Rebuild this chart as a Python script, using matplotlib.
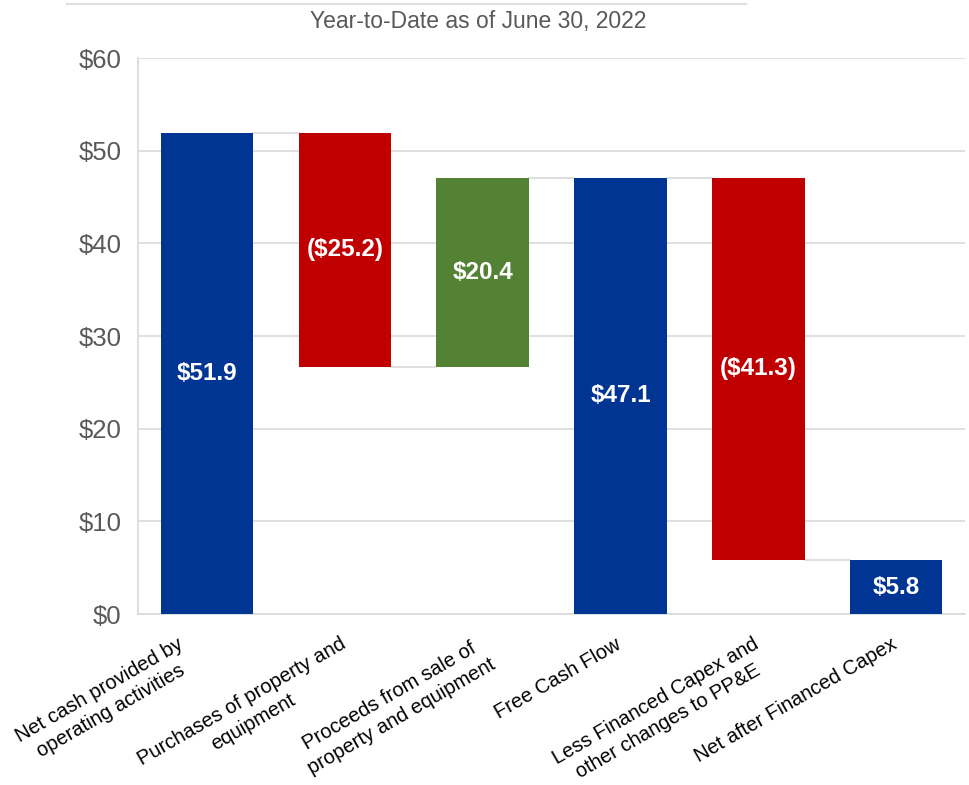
import numpy as np
import matplotlib.pyplot as plt
from matplotlib.lines import Line2D

plt.rcParams['font.family'] = ['Liberation Sans', 'DejaVu Sans']

categories = ['Net cash provided by\noperating activities',
              'Purchases of property and\nequipment',
              'Proceeds from sale of\nproperty and equipment',
              'Free Cash Flow',
              'Less Financed Capex and\nother changes to PP&E',
              'Net after Financed Capex']
changes = [51.9, -25.2, 20.4, None, -41.3, None]
value_labels = ['$51.9', '($25.2)', '$20.4', '$47.1', '($41.3)', '$5.8']
kinds = ['total', 'down', 'up', 'total', 'down', 'total']

colors = {'total': '#003594', 'down': '#C00000', 'up': '#548235'}

# running totals
bottoms, heights, ends = [], [], []
run = 0.0
for kind, ch in zip(kinds, changes):
    if kind == 'total':
        if ch is not None:
            run = ch
        bottoms.append(0)
        heights.append(run)
    else:
        new = run + ch
        bottoms.append(min(run, new))
        heights.append(abs(ch))
        run = new
    ends.append(run)

fig = plt.figure(figsize=(9.69, 7.85), dpi=100)
ax = fig.add_axes([0.1424, 0.2178, 0.8536, 0.7082])

x = np.arange(len(categories))
width = 0.67
ax.bar(x, heights, bottom=bottoms, width=width,
       color=[colors[k] for k in kinds], zorder=3)

# connectors
for i in range(len(x) - 1):
    ax.plot([x[i] + width / 2, x[i + 1] - width / 2], [ends[i], ends[i]],
            color='#d9d9d9', lw=1.2, zorder=2)

for i, lab in enumerate(value_labels):
    ax.text(x[i], bottoms[i] + heights[i] / 2, lab, ha='center', va='center',
            color='white', fontsize=17.5, fontweight='bold', zorder=4)

ax.set_xlim(-0.5, len(categories) - 0.5)
ax.set_ylim(0, 60)
ax.set_yticks(np.arange(0, 61, 10))
ax.set_yticklabels(['$%d' % v for v in range(0, 61, 10)])
ax.tick_params(axis='y', length=0, pad=12, labelsize=18.5, labelcolor='#595959')
ax.tick_params(axis='x', length=0)
ax.set_xticks(x)
ax.set_xticklabels([])
ax.grid(axis='y', color='#d9d9d9', lw=1.2, zorder=0)
for s in ['top', 'right']:
    ax.spines[s].set_visible(False)
for s in ['left', 'bottom']:
    ax.spines[s].set_color('#d9d9d9')
    ax.spines[s].set_linewidth(1.2)

# small nudge for the first label, which sits left of its bar in the original
nudge = [-0.22, -0.04, -0.04, -0.04, -0.04, -0.04]
for i, cat in enumerate(categories):
    ax.text(x[i] + nudge[i], -2.2, cat, rotation=30, rotation_mode='anchor',
            ha='right', va='top', multialignment='center', linespacing=1.3,
            fontsize=14.5, color='black')

fig.text(0.493, 0.972, 'Year-to-Date as of June 30, 2022', ha='center',
         va='center', fontsize=16.5, color='#595959')
fig.add_artist(Line2D([0.069, 0.77], [0.995, 0.995], color='#e0e0e0', lw=1.5,
                      transform=fig.transFigure))

fig.savefig('out.png', dpi=100)
